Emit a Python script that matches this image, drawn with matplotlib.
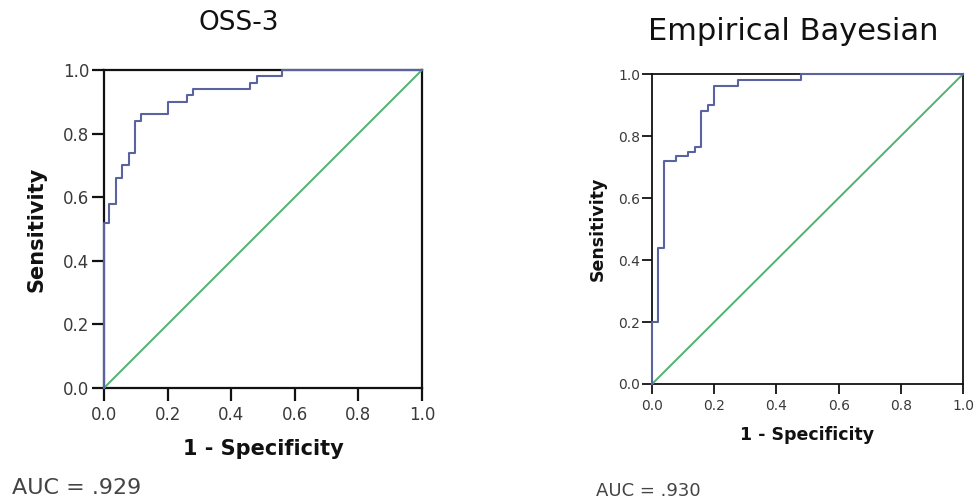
import matplotlib
matplotlib.use("Agg")
import matplotlib.pyplot as plt

### roc operating points (1 - specificity, sensitivity)
oss_fpr = [0, 0, 0.016, 0.038, 0.057, 0.079, 0.097, 0.116, 0.20, 0.26, 0.28, 0.46, 0.48, 0.56, 1.0]
oss_tpr = [0, 0.52, 0.58, 0.66, 0.70, 0.74, 0.84, 0.86, 0.90, 0.92, 0.94, 0.96, 0.98, 1.0, 1.0]
oss_auc = ".929"

eb_fpr = [0, 0, 0.02, 0.038, 0.077, 0.116, 0.138, 0.157, 0.179, 0.20, 0.277, 0.48, 1.0]
eb_tpr = [0, 0.20, 0.44, 0.72, 0.735, 0.75, 0.765, 0.88, 0.90, 0.96, 0.98, 1.0, 1.0]
eb_auc = ".930"

ticks = [0.0, 0.2, 0.4, 0.6, 0.8, 1.0]
tick_labels = ["0.0", "0.2", "0.4", "0.6", "0.8", "1.0"]

roc_color = "#5a62a0"
ref_color = "#4db36e"

plt.rcParams["font.family"] = "DejaVu Sans"

fig = plt.figure(figsize=(9.78, 5.04), dpi=100)


def roc_panel(rect, fpr, tpr, tick_fs, label_fs, spine_w, tick_len, xlab_y, ylab_x):
       ax = fig.add_axes(rect)
       ax.plot([0, 1], [0, 1], color=ref_color, lw=1.4, zorder=3, clip_on=False)
       ax.plot(fpr, tpr, drawstyle="steps-post", color=roc_color, lw=1.5, zorder=4, clip_on=False)
       ax.set_xlim(0, 1)
       ax.set_ylim(0, 1)
       ax.set_xticks(ticks)
       ax.set_yticks(ticks)
       ax.set_xticklabels(tick_labels)
       ax.set_yticklabels(tick_labels)
       for s in ax.spines.values():
              s.set_linewidth(spine_w)
              s.set_color("#111111")
       ax.tick_params(direction="out", length=tick_len, width=spine_w, colors="#111111",
                      labelsize=tick_fs, labelcolor="#3a3a3a")
       ax.tick_params(axis="x", pad=4)
       ax.tick_params(axis="y", pad=1.5)
       ax.set_xlabel("1 - Specificity", fontsize=label_fs, fontweight="bold", color="#111111")
       ax.set_ylabel("Sensitivity", fontsize=label_fs, fontweight="bold", color="#111111")
       ax.xaxis.set_label_coords(0.5, xlab_y)
       ax.yaxis.set_label_coords(ylab_x, 0.5)
       return ax


roc_panel([0.1063, 0.2302, 0.3252, 0.631], oss_fpr, oss_tpr,
          tick_fs=12, label_fs=15, spine_w=1.6, tick_len=9, xlab_y=-0.16, ylab_x=-0.18)
roc_panel([0.6667, 0.2381, 0.318, 0.615], eb_fpr, eb_tpr,
          tick_fs=10, label_fs=12.5, spine_w=1.3, tick_len=7, xlab_y=-0.135, ylab_x=-0.145)

fig.text(239 / 978, 1 - 23 / 504, "OSS-3", fontsize=19, ha="center", va="center", color="#111111")
fig.text(793 / 978, 1 - 32 / 504, "Empirical Bayesian", fontsize=22, ha="center", va="center", color="#111111")

fig.text(12 / 978, 1 - 488 / 504, "AUC = " + oss_auc, fontsize=16, ha="left", va="center", color="#444444")
fig.text(596 / 978, 1 - 491 / 504, "AUC = " + eb_auc, fontsize=13, ha="left", va="center", color="#444444")

plt.savefig("out.png", dpi=100)
